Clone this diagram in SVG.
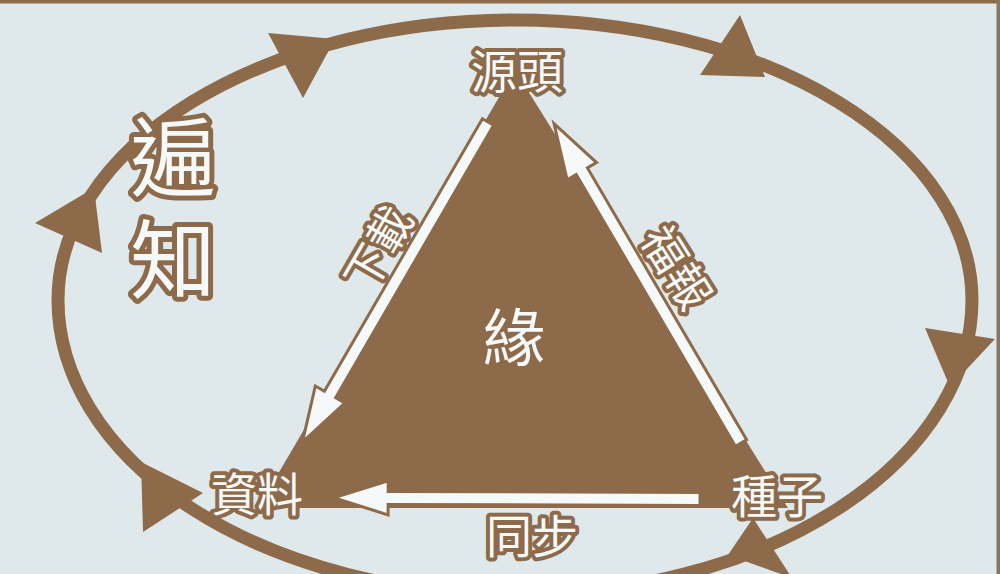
<svg xmlns="http://www.w3.org/2000/svg" width="1000" height="574" viewBox="0 0 1000 574">
<defs>
<style>
.br{fill:#8d6b4a}
.loop{fill:none;stroke:#8d6b4a;stroke-width:13}
.arw{fill:#f6f9f9;stroke:#8d6b4a;stroke-width:3;stroke-linejoin:miter}
.lbl{font-family:"Noto Sans CJK TC","Noto Sans CJK SC",sans-serif;fill:#f6f9f9;stroke:#8d6b4a;stroke-width:8;stroke-linejoin:round;paint-order:stroke;text-anchor:middle;dominant-baseline:central}
.big{stroke-width:10}
.inner{font-family:"Noto Sans CJK TC","Noto Sans CJK SC",sans-serif;fill:#f6f9f9;text-anchor:middle;dominant-baseline:central}
</style>
<polygon id="warrow" points="0,-6.5 315,-6.5 315,-17 370,0 315,17 315,6.5 0,6.5"/>
</defs>
<rect width="1000" height="574" fill="#dfe9eb"/>
<rect x="0" y="0" width="1000" height="3.5" class="br"/>
<rect x="996.5" y="0" width="3.5" height="574" fill="#8a7560"/>
<g id="cycle">
<path class="loop" d="M58,300 A457,280 0 0 1 972,300 A457,295 0 0 1 58,300 Z"/>
<polygon class="br" points="268,33 335,39 303,98"/>
<polygon class="br" points="740,15 700,75 765,77"/>
<polygon class="br" points="925,328 995,339 950,387"/>
<polygon class="br" points="753,518 728,555 792,578"/>
<polygon class="br" points="141,462 203,493 143,532"/>
<polygon class="br" points="35,223 94,188 102,253"/>
</g>
<g id="triangle">
<polygon class="br" points="515,70 258,508 788,508"/>
</g>
<g id="connectors">
<use href="#warrow" class="arw" transform="translate(488,122) rotate(120.1)"/>
<use href="#warrow" class="arw" transform="translate(741,443) rotate(-120.35)"/>
<use href="#warrow" class="arw" transform="translate(700,499) rotate(180.2) scale(0.99,1)"/>
</g>
<g id="node-source"><text class="lbl" x="517" y="68" font-size="46">源頭</text></g>
<g id="node-data"><text class="lbl" x="257" y="491" font-size="46">資料</text></g>
<g id="node-seed"><text class="lbl" x="777" y="493" font-size="46">種子</text></g>
<g id="node-center"><text class="inner" x="514" y="334" font-size="62">緣</text></g>
<g id="label-omniscience">
<text class="lbl big" writing-mode="vertical-rl" x="173" y="216" font-size="86" letter-spacing="16">遍知</text>
</g>
<g id="label-download"><text class="lbl" transform="translate(376,247) rotate(-60)" font-size="44">下載</text></g>
<g id="label-reward"><text class="lbl" transform="translate(679,266) rotate(58)" font-size="44">福報</text></g>
<g id="label-sync"><text class="lbl" x="532" y="533" font-size="46">同步</text></g>
</svg>
